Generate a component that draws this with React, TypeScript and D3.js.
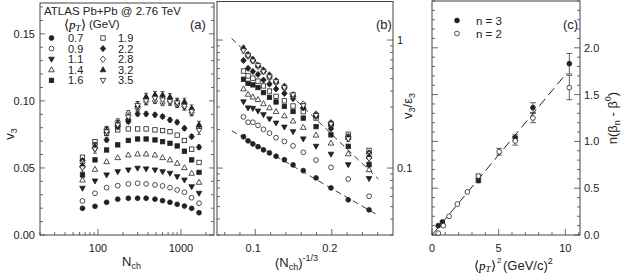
import { scaleLinear, scaleLog, range, line } from "d3";

// --- panel (a): v3 vs Nch, one array per <pT> bin ---
const nch = [65, 92, 127, 173, 232, 300, 380, 486, 600, 737, 900, 1100, 1345, 1650];
const eps3 = [0.422, 0.379, 0.349, 0.319, 0.287, 0.259, 0.236, 0.216, 0.195, 0.176, 0.156, 0.14, 0.122, 0.0945];

const ptLabels = ["0.7", "0.9", "1.1", "1.4", "1.6", "1.9", "2.2", "2.8", "3.2", "3.5"];
const v3pt07 = [0.0199, 0.0214, 0.0244, 0.0267, 0.0274, 0.0274, 0.0274, 0.0267, 0.0256, 0.0244, 0.0229, 0.0216, 0.0199, 0.0166];
const v3pt09 = [0.0254, 0.0311, 0.0353, 0.0368, 0.0381, 0.0386, 0.0381, 0.0373, 0.0366, 0.0353, 0.0336, 0.0319, 0.0278, 0.0237];
const v3pt11 = [0.0349, 0.0403, 0.0448, 0.0472, 0.0485, 0.0498, 0.0493, 0.0485, 0.0472, 0.046, 0.0435, 0.041, 0.036, 0.0311];
const v3pt14 = [0.041, 0.049, 0.0547, 0.0577, 0.0597, 0.0604, 0.0604, 0.0597, 0.0577, 0.056, 0.0535, 0.0502, 0.046, 0.0393];
const v3pt16 = [0.0448, 0.056, 0.0634, 0.0672, 0.0705, 0.0716, 0.0716, 0.0709, 0.0696, 0.0684, 0.0664, 0.0625, 0.056, 0.0467];
const v3pt19 = [0.058, 0.0696, 0.0759, 0.0784, 0.0791, 0.0791, 0.0791, 0.0784, 0.0779, 0.0771, 0.0745, 0.0705, 0.064, 0.0541];
const v3pt22 = [0.0555, 0.0647, 0.0709, 0.0808, 0.0846, 0.0903, 0.0903, 0.0896, 0.0883, 0.0858, 0.0841, 0.0796, 0.0734, 0.0655];
const v3pt28 = [0.054, 0.067, 0.079, 0.0846, 0.0908, 0.0945, 0.0995, 0.1, 0.0985, 0.0995, 0.097, 0.0958, 0.091, 0.08];
const v3pt32 = [0.052, 0.066, 0.078, 0.083, 0.0871, 0.097, 0.1032, 0.1045, 0.1045, 0.103, 0.0995, 0.0995, 0.0945, 0.0823];
const v3pt35 = [0.05, 0.064, 0.077, 0.082, 0.088, 0.0965, 0.1, 0.102, 0.1007, 0.0995, 0.0985, 0.096, 0.092, 0.078];
const v3Err = [0, 0, 0, 0, 0.0008, 0.001, 0.0015, 0.002, 0.0025, 0.003];

const shapes = ["circle", "circle", "triDown", "triUp", "square", "square", "diamond", "diamond", "triUp", "triDown"];
const filled = [true, false, true, false, true, false, true, false, true, false];

// --- panel (b) fit lines ---
const fitHigh = [[0.069, 1.03], [0.261, 0.082]];
const fitLow = [[0.0693, 0.1956], [0.261, 0.0426]];

// --- panel (c): n(beta_n - beta^0) vs <pT>^2 ---
const pt2N3 = [0.47, 0.78, 3.48, 6.24, 7.57, 10.3];
const betaN3 = [0.1, 0.14, 0.58, 1.04, 1.36, 1.83];
const errN3 = [0, 0, 0.02, 0.03, 0.053, 0.11];
const pt2N2 = [0.47, 0.85, 1.28, 1.9, 2.65, 3.48, 5.04, 6.24, 7.57, 10.3];
const betaN2 = [0.02, 0.1, 0.2, 0.33, 0.46, 0.63, 0.89, 1.005, 1.25, 1.575];
const errN2 = [0, 0, 0, 0, 0, 0.02, 0.036, 0.045, 0.05, 0.13];
const fitC = [[0, 0], [10.1, 1.73]];

const aYTicks = [0, 0.05, 0.1, 0.15];
const aXTicks = [100, 1000];
const bXTicks = [0.1, 0.2];
const bYTicks = [0.1, 1];
const cXTicks = [0, 5, 10];
const cYTicks = [0, 0.5, 1, 1.5, 2];

const allV3 = [v3pt07, v3pt09, v3pt11, v3pt14, v3pt16, v3pt19, v3pt22, v3pt28, v3pt32, v3pt35];

const FONT = "'Liberation Sans', Arial, sans-serif";
const SERIF = "'Liberation Serif', 'Times New Roman', serif";
const INK = "#222";

function Marker({ x, y, shape, fill }: { x: number; y: number; shape: string; fill: boolean }) {
  const f = fill ? INK : "#fff";
  const common = { fill: f, stroke: INK, strokeWidth: 0.8 };
  if (shape === "circle") return <circle cx={x} cy={y} r={2.4} {...common} />;
  if (shape === "square") return <rect x={x - 2.2} y={y - 2.2} width={4.4} height={4.4} {...common} />;
  if (shape === "diamond")
    return <path d={`M${x},${y - 3.1}L${x + 2.7},${y}L${x},${y + 3.1}L${x - 2.7},${y}Z`} {...common} />;
  if (shape === "triUp")
    return <path d={`M${x},${y - 3}L${x + 2.8},${y + 2}L${x - 2.8},${y + 2}Z`} {...common} />;
  return <path d={`M${x},${y + 3}L${x + 2.8},${y - 2}L${x - 2.8},${y - 2}Z`} {...common} />;
}

function ErrBar({ x, y1, y2, cap }: { x: number; y1: number; y2: number; cap: number }) {
  return (
    <g stroke={INK} strokeWidth={0.7}>
      <line x1={x} x2={x} y1={y1} y2={y2} />
      <line x1={x - cap} x2={x + cap} y1={y1} y2={y1} />
      <line x1={x - cap} x2={x + cap} y1={y2} y2={y2} />
    </g>
  );
}

function PT({ x, y, size }: { x: number; y: number; size: number }) {
  return (
    <text x={x} y={y} fontSize={size} fontFamily={SERIF}>
      {"\u27e8"}
      <tspan fontStyle="italic">p</tspan>
      <tspan fontStyle="italic" fontSize={size * 0.7} dy={2}>T</tspan>
      <tspan dy={-2}>{"\u27e9"}</tspan>
    </text>
  );
}

export default function App() {
  // panel (a)
  const xA = scaleLog().domain([20, 2500]).range([40, 214]);
  const yA = scaleLinear().domain([0, 0.173]).range([235, 3]);
  // panel (b)
  const xB = scaleLinear().domain([0.05, 0.28]).range([217, 393]);
  const yB = scaleLog().domain([0.03, 2]).range([235, 1.5]);
  // panel (c)
  const xC = scaleLinear().domain([0, 11.1]).range([432, 580]);
  const yC = scaleLinear().domain([0, 2.5]).range([235, 1]);

  const aMinorY = range(0, 0.1705, 0.01);
  const aMinorX = [20, 30, 40, 50, 60, 70, 80, 90, 100, 200, 300, 400, 500, 600, 700, 800, 900, 1000, 2000];
  const bMinorX = range(0.06, 0.2705, 0.02);
  const bMinorY = [0.03, 0.04, 0.05, 0.06, 0.07, 0.08, 0.09, 0.1, 0.2, 0.3, 0.4, 0.5, 0.6, 0.7, 0.8, 0.9, 1, 2];
  const cMinorX = range(0, 11.05, 1);
  const cMinorY = range(0, 2.505, 0.1);

  const isMaj = (v: number, list: number[]) => list.some((t) => Math.abs(t - v) < 1e-6);

  const bLine = line<number[]>()
    .x((d) => xB(d[0]))
    .y((d) => yB(d[1]));
  const cLine = line<number[]>()
    .x((d) => xC(d[0]))
    .y((d) => yC(d[1]));

  const legendRows = [0, 1, 2, 3, 4];

  return (
    <svg width={623} height={274} style={{ position: "absolute", left: 0, top: 0, background: "#fff" }} fontFamily={FONT}>
      {/* ---------- panel (a) ---------- */}
      <rect x={40} y={3} width={174} height={232} fill="none" stroke="#444" strokeWidth={1} />
      <g stroke="#444" strokeWidth={0.8}>
        {aMinorY.map((v) => {
          const l = isMaj(v, aYTicks) ? 5 : 3;
          return (
            <g key={`ay${v}`}>
              <line x1={40} x2={40 + l} y1={yA(v)} y2={yA(v)} />
              <line x1={214 - l} x2={214} y1={yA(v)} y2={yA(v)} />
            </g>
          );
        })}
        {aMinorX.map((v) => (
          <line key={`ax${v}`} x1={xA(v)} x2={xA(v)} y1={235} y2={235 - (isMaj(v, aXTicks) ? 6 : 3)} />
        ))}
      </g>
      <g fontSize={11} fill={INK} textAnchor="end">
        {aYTicks.map((t) => (
          <text key={`ayl${t}`} x={35} y={yA(t) + 4}>
            {t.toFixed(2)}
          </text>
        ))}
      </g>
      <g fontSize={11} fill={INK} textAnchor="middle">
        {aXTicks.map((t) => (
          <text key={`axl${t}`} x={xA(t)} y={252}>
            {t}
          </text>
        ))}
      </g>
      <text x={122} y={266} fontSize={13} fill={INK}>
        N<tspan fontSize={9} dy={3}>ch</tspan>
      </text>
      <text transform="translate(14,134) rotate(-90)" fontSize={13} fill={INK} textAnchor="middle">
        v<tspan fontSize={9} dy={3}>3</tspan>
      </text>
      <text x={190} y={29} fontSize={13} fill={INK}>(a)</text>
      <text x={44} y={15} fontSize={11.5} fill={INK}>ATLAS  Pb+Pb @ 2.76 TeV</text>
      <PT x={64} y={29} size={13} />
      <text x={89} y={28} fontSize={11.5} fill={INK}>(GeV)</text>
      {legendRows.map((r) => (
        <g key={`lg${r}`}>
          <Marker x={51.5} y={38 + r * 10.6} shape={shapes[r]} fill={filled[r]} />
          <text x={68} y={42 + r * 10.6} fontSize={11} fill={INK}>{ptLabels[r]}</text>
          <Marker x={103} y={38 + r * 10.6} shape={shapes[r + 5]} fill={filled[r + 5]} />
          <text x={118} y={42 + r * 10.6} fontSize={11} fill={INK}>{ptLabels[r + 5]}</text>
        </g>
      ))}
      {allV3.map((vals, s) => (
        <g key={`sa${s}`}>
          {vals.map((v, i) =>
            v3Err[s] > 0 ? (
              <ErrBar key={`ea${i}`} x={xA(nch[i])} y1={yA(v + v3Err[s])} y2={yA(v - v3Err[s])} cap={2} />
            ) : null
          )}
          {vals.map((v, i) => (
            <Marker key={`ma${i}`} x={xA(nch[i])} y={yA(v)} shape={shapes[s]} fill={filled[s]} />
          ))}
        </g>
      ))}

      {/* ---------- panel (b) ---------- */}
      <rect x={217} y={1.5} width={176} height={233.5} fill="none" stroke="#444" strokeWidth={1} />
      <g stroke="#444" strokeWidth={0.8}>
        {bMinorY.map((v) => {
          const l = isMaj(v, bYTicks) ? 6 : 3;
          return (
            <g key={`by${v}`}>
              <line x1={217} x2={217 + l} y1={yB(v)} y2={yB(v)} />
              <line x1={393 - l} x2={393} y1={yB(v)} y2={yB(v)} />
            </g>
          );
        })}
        {bMinorX.map((v) => (
          <line key={`bx${v}`} x1={xB(v)} x2={xB(v)} y1={235} y2={235 - (isMaj(v, bXTicks) ? 6 : 3)} />
        ))}
      </g>
      <g fontSize={11} fill={INK} textAnchor="middle">
        {bXTicks.map((t) => (
          <text key={`bxl${t}`} x={xB(t) - 2} y={252}>
            {t}
          </text>
        ))}
      </g>
      <g fontSize={11} fill={INK}>
        {bYTicks.map((t) => (
          <text key={`byl${t}`} x={397} y={yB(t) + 4}>
            {t}
          </text>
        ))}
      </g>
      <text x={275} y={267} fontSize={13} fill={INK}>
        (N<tspan fontSize={9} dy={3}>ch</tspan>
        <tspan dy={-3}>)</tspan>
        <tspan fontSize={9} dy={-6}>-1/3</tspan>
      </text>
      <text x={376} y={29} fontSize={13} fill={INK}>(b)</text>
      <path d={bLine(fitHigh) || ""} fill="none" stroke={INK} strokeWidth={0.9} strokeDasharray="6,4" />
      <path d={bLine(fitLow) || ""} fill="none" stroke={INK} strokeWidth={0.9} strokeDasharray="6,4" />
      {allV3.map((vals, s) => (
        <g key={`sb${s}`}>
          {vals.map((v, i) =>
            v3Err[s] > 0 ? (
              <ErrBar
                key={`eb${i}`}
                x={xB(Math.cbrt(1 / nch[i]))}
                y1={yB((v + v3Err[s]) / eps3[i])}
                y2={yB((v - v3Err[s]) / eps3[i])}
                cap={2}
              />
            ) : null
          )}
          {vals.map((v, i) => (
            <Marker
              key={`mb${i}`}
              x={xB(Math.cbrt(1 / nch[i]))}
              y={yB(v / eps3[i])}
              shape={shapes[s]}
              fill={filled[s]}
            />
          ))}
        </g>
      ))}

      {/* ---------- panel (c) ---------- */}
      <text transform="translate(412,106) rotate(-90)" fontSize={13} fill={INK} textAnchor="middle">
        v<tspan fontSize={9} dy={3}>3</tspan>
        <tspan dy={-3}>/ε</tspan>
        <tspan fontSize={9} dy={3}>3</tspan>
      </text>
      <rect x={432} y={1} width={148} height={234} fill="none" stroke="#444" strokeWidth={1} />
      <g stroke="#444" strokeWidth={0.8}>
        {cMinorY.map((v) => {
          const l = isMaj(v, cYTicks) ? 6 : 3;
          return (
            <g key={`cy${v}`}>
              <line x1={432} x2={432 + l} y1={yC(v)} y2={yC(v)} />
              <line x1={580 - l} x2={580} y1={yC(v)} y2={yC(v)} />
            </g>
          );
        })}
        {cMinorX.map((v) => (
          <line key={`cx${v}`} x1={xC(v)} x2={xC(v)} y1={235} y2={235 - (isMaj(v, cXTicks) ? 6 : 3)} />
        ))}
      </g>
      <g fontSize={11} fill={INK}>
        {cYTicks.map((t) => (
          <text key={`cyl${t}`} x={584} y={yC(t) + 4}>
            {t.toFixed(1)}
          </text>
        ))}
      </g>
      <g fontSize={11} fill={INK} textAnchor="middle">
        {cXTicks.map((t) => (
          <text key={`cxl${t}`} x={xC(t)} y={252}>
            {t}
          </text>
        ))}
      </g>
      <PT x={474} y={270} size={13} />
      <text x={497} y={270} fontSize={8} fill={INK} dy={-7}>2</text>
      <text x={503} y={270} fontSize={13} fill={INK}>
        (GeV/c)<tspan fontSize={9} dy={-6}>2</tspan>
      </text>
      <text transform="translate(617,118) rotate(-90)" fontSize={13} fill={INK} textAnchor="middle">
        n(β<tspan fontSize={9} dy={3}>n</tspan>
        <tspan dy={-3}> - β</tspan>
        <tspan fontSize={9} dy={-6}>0</tspan>
        <tspan dy={6}>)</tspan>
      </text>
      <text x={563} y={29} fontSize={13} fill={INK}>(c)</text>
      <Marker x={457} y={20.5} shape="circle" fill={true} />
      <text x={476} y={25} fontSize={11.5} fill={INK}>n = 3</text>
      <Marker x={457} y={33.5} shape="circle" fill={false} />
      <text x={476} y={38} fontSize={11.5} fill={INK}>n = 2</text>
      <path d={cLine(fitC) || ""} fill="none" stroke={INK} strokeWidth={1} strokeDasharray="9,5" />
      {pt2N3.map((p, i) =>
        errN3[i] > 0 ? (
          <ErrBar key={`e3${i}`} x={xC(p)} y1={yC(betaN3[i] + errN3[i])} y2={yC(betaN3[i] - errN3[i])} cap={3} />
        ) : null
      )}
      {pt2N2.map((p, i) =>
        errN2[i] > 0 ? (
          <ErrBar key={`e2${i}`} x={xC(p)} y1={yC(betaN2[i] + errN2[i])} y2={yC(betaN2[i] - errN2[i])} cap={3} />
        ) : null
      )}
      {pt2N3.map((p, i) => (
        <Marker key={`m3${i}`} x={xC(p)} y={yC(betaN3[i])} shape="circle" fill={true} />
      ))}
      {pt2N2.map((p, i) => (
        <Marker key={`m2${i}`} x={xC(p)} y={yC(betaN2[i])} shape="circle" fill={false} />
      ))}
    </svg>
  );
}
